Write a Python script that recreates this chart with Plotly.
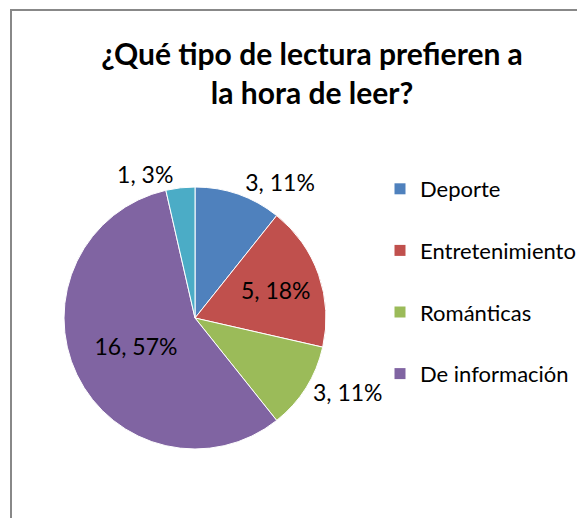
import plotly.graph_objects as go

categories = ["Deporte", "Entretenimiento", "Románticas", "De información", "Otros"]
values = [3, 5, 3, 16, 1]
pct_labels = ["11%", "18%", "11%", "57%", "3%"]
legend_items = ["Deporte", "Entretenimiento", "Románticas", "De información"]
colors = ["#4F81BD", "#C0504D", "#9BBB59", "#8064A2", "#4BACC6"]
text_positions = ["outside", "inside", "outside", "inside", "outside"]

W, H = 585, 518
FONT = "Lato, 'Open Sans', sans-serif"
CX, CY, R = 187, 310, 131  # pie centre / radius in figure pixels

fig = go.Figure()
fig.add_trace(go.Pie(
    labels=categories,
    values=values,
    customdata=pct_labels,
    texttemplate="%{value}, %{customdata}",
    textposition=text_positions,
    textfont=dict(family=FONT, size=23, color="black"),
    insidetextorientation="horizontal",
    marker=dict(colors=colors, line=dict(color="white", width=1)),
    sort=False,
    direction="clockwise",
    rotation=0,
    showlegend=False,
    hoverinfo="label+value+percent",
    domain=dict(x=[(CX - R) / W, (CX + R) / W],
                y=[(H - CY - R) / H, (H - CY + R) / H]),
))

for name, col in zip(legend_items, colors):
    fig.add_trace(go.Scatter(
        x=[None], y=[None], mode="markers", name=name, legendgroup=name,
        marker=dict(symbol="square", size=11, color=col),
    ))

fig.add_shape(type="rect", xref="paper", yref="paper",
              x0=3 / W, x1=1.02, y0=-0.02, y1=1 - 2 / H,
              line=dict(color="#888888", width=2), fillcolor="rgba(0,0,0,0)")

fig.update_layout(
    width=W, height=H,
    margin=dict(l=0, r=0, t=0, b=0),
    paper_bgcolor="white", plot_bgcolor="white",
    title=dict(text="<b>¿Qué tipo de lectura prefieren a<br>la hora de leer?</b>",
               x=304 / W, xanchor="center", y=1 - 57 / H, yanchor="middle",
               yref="container", xref="paper",
               font=dict(family=FONT, size=30, color="black")),
    legend=dict(x=372 / W, y=1 - 160 / H, xanchor="left", yanchor="top",
                font=dict(family=FONT, size=22, color="black"),
                tracegroupgap=30, bgcolor="rgba(0,0,0,0)"),
    xaxis=dict(visible=False), yaxis=dict(visible=False),
)

fig.write_html("out.html")
